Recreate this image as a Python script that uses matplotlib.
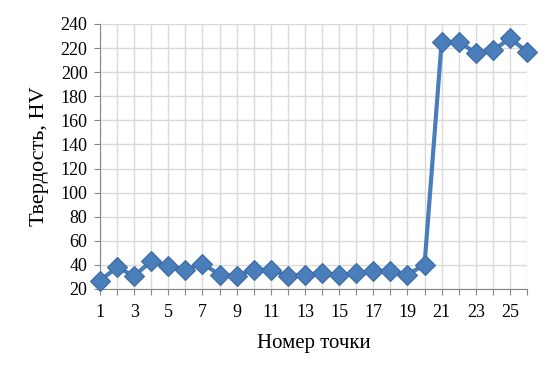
import matplotlib
matplotlib.use("Agg")
import matplotlib.pyplot as plt
import numpy as np

points = list(range(1, 27))
hardness = [27, 38, 31, 43, 39, 36, 41, 32, 31, 36, 36, 31, 32, 33, 32, 33,
            35, 35, 32, 40, 225, 225, 216, 218, 228, 217]
x_labels = [str(i) if i % 2 == 1 else "" for i in points]
y_ticks = list(range(20, 241, 20))

plt.rcParams['font.family'] = ['Liberation Serif', 'DejaVu Serif']

fig = plt.figure(figsize=(5.6, 3.8), dpi=100)
ax = fig.add_axes([0.1786, 0.2395, 0.7625, 0.6975])

ax.plot(points, hardness, color='#4a7ebb', lw=3, marker='D', ms=10,
        mfc='#4a7ebb', mec='#3d6aa0', mew=0.8, clip_on=False, zorder=3)

ax.set_xlim(1, 26)
ax.set_ylim(20, 240)
ax.set_xticks(points)
ax.set_xticklabels(x_labels)
ax.set_yticks(y_ticks)
ax.grid(True, color='#d9d9d9', lw=1)
ax.set_axisbelow(True)

for s in ['top', 'right']:
    ax.spines[s].set_visible(False)
for s in ['left', 'bottom']:
    ax.spines[s].set_color('#868686')
ax.tick_params(axis='both', colors='#868686', labelcolor='black',
               labelsize=13, length=4, direction='out')
ax.tick_params(axis='x', pad=7)
ax.tick_params(axis='y', pad=5)

ax.set_xlabel('Номер точки', fontsize=15, labelpad=9)
ax.set_ylabel('Твердость, HV', fontsize=16, labelpad=8)

fig.savefig('out.png', dpi=100)
